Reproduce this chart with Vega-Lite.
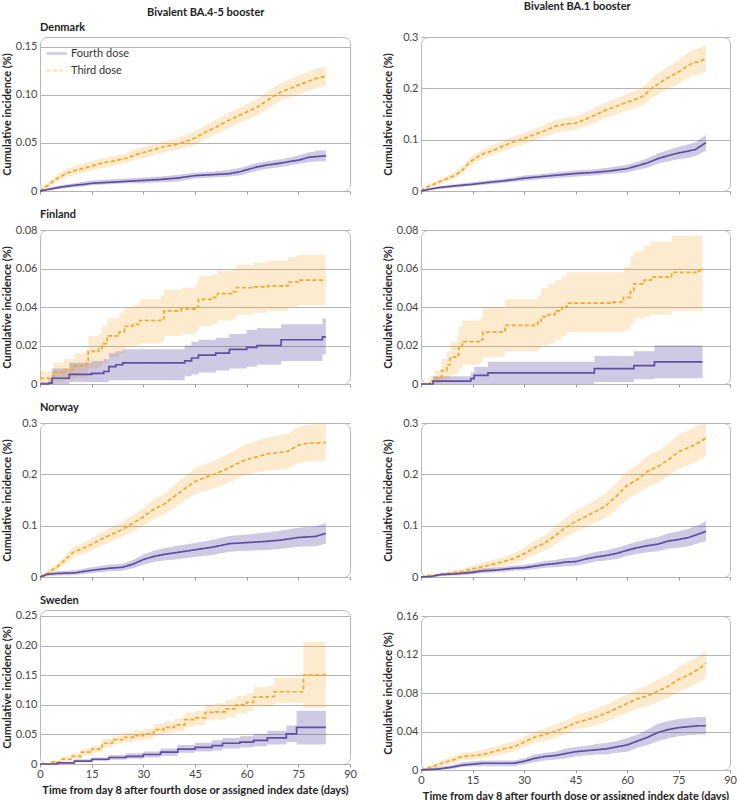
{
  "$schema": "https://vega.github.io/schema/vega-lite/v6.json",
  "padding": {"left": 0, "top": 0, "right": 0, "bottom": 0},
  "config": {
    "font": "Lato",
    "view": {"stroke": "#b8b8b8", "cornerRadius": 7},
    "axis": {"labelFont": "Lato", "labelFontSize": 11, "labelColor": "#444", "titleFont": "Lato", "titleFontSize": 11, "titleFontWeight": "bold", "titleColor": "#222", "domain": false, "labelOverlap": false},
    "axisY": {"grid": true, "gridColor": "#b4b4b4", "ticks": false, "labelPadding": 3, "titleX": -28, "titleAngle": -90, "tickCount": 10},
    "axisX": {"grid": false, "tickColor": "#9a9a9a", "tickSize": 3, "labelPadding": 1, "titlePadding": 5, "labelFlush": false, "tickCount": 10},
    "title": {"font": "Lato", "fontSize": 11, "fontWeight": "bold", "color": "#222"},
    "legend": {"labelFont": "Lato", "labelFontSize": 11, "labelColor": "#333"}
  },
  "datasets": {
    "dk45": [
      {"dose":"Third dose","day":0,"inc":0,"lo":0,"hi":0.002},
      {"dose":"Third dose","day":2,"inc":0.005,"lo":0.003,"hi":0.008},
      {"dose":"Third dose","day":5,"inc":0.013,"lo":0.010,"hi":0.017},
      {"dose":"Third dose","day":8,"inc":0.019,"lo":0.015,"hi":0.023},
      {"dose":"Third dose","day":11,"inc":0.022,"lo":0.018,"hi":0.027},
      {"dose":"Third dose","day":15,"inc":0.026,"lo":0.021,"hi":0.031},
      {"dose":"Third dose","day":18,"inc":0.029,"lo":0.024,"hi":0.034},
      {"dose":"Third dose","day":21,"inc":0.031,"lo":0.026,"hi":0.036},
      {"dose":"Third dose","day":25,"inc":0.034,"lo":0.029,"hi":0.039},
      {"dose":"Third dose","day":28,"inc":0.038,"lo":0.033,"hi":0.044},
      {"dose":"Third dose","day":30,"inc":0.040,"lo":0.034,"hi":0.046},
      {"dose":"Third dose","day":33,"inc":0.043,"lo":0.037,"hi":0.049},
      {"dose":"Third dose","day":36,"inc":0.046,"lo":0.040,"hi":0.052},
      {"dose":"Third dose","day":39,"inc":0.048,"lo":0.042,"hi":0.054},
      {"dose":"Third dose","day":42,"inc":0.051,"lo":0.045,"hi":0.058},
      {"dose":"Third dose","day":45,"inc":0.055,"lo":0.048,"hi":0.062},
      {"dose":"Third dose","day":48,"inc":0.061,"lo":0.054,"hi":0.068},
      {"dose":"Third dose","day":51,"inc":0.066,"lo":0.059,"hi":0.074},
      {"dose":"Third dose","day":54,"inc":0.072,"lo":0.064,"hi":0.080},
      {"dose":"Third dose","day":57,"inc":0.077,"lo":0.069,"hi":0.085},
      {"dose":"Third dose","day":60,"inc":0.082,"lo":0.074,"hi":0.090},
      {"dose":"Third dose","day":63,"inc":0.087,"lo":0.079,"hi":0.096},
      {"dose":"Third dose","day":66,"inc":0.094,"lo":0.085,"hi":0.103},
      {"dose":"Third dose","day":68,"inc":0.099,"lo":0.090,"hi":0.108},
      {"dose":"Third dose","day":70,"inc":0.103,"lo":0.094,"hi":0.112},
      {"dose":"Third dose","day":73,"inc":0.107,"lo":0.098,"hi":0.117},
      {"dose":"Third dose","day":75,"inc":0.110,"lo":0.100,"hi":0.120},
      {"dose":"Third dose","day":78,"inc":0.114,"lo":0.104,"hi":0.124},
      {"dose":"Third dose","day":81,"inc":0.118,"lo":0.108,"hi":0.128},
      {"dose":"Third dose","day":83,"inc":0.119,"lo":0.109,"hi":0.129},
      {"dose":"Fourth dose","day":0,"inc":0,"lo":0,"hi":0.001},
      {"dose":"Fourth dose","day":3,"inc":0.002,"lo":0.001,"hi":0.004},
      {"dose":"Fourth dose","day":6,"inc":0.004,"lo":0.002,"hi":0.006},
      {"dose":"Fourth dose","day":10,"inc":0.006,"lo":0.004,"hi":0.008},
      {"dose":"Fourth dose","day":13,"inc":0.007,"lo":0.005,"hi":0.010},
      {"dose":"Fourth dose","day":15,"inc":0.008,"lo":0.006,"hi":0.011},
      {"dose":"Fourth dose","day":20,"inc":0.009,"lo":0.007,"hi":0.012},
      {"dose":"Fourth dose","day":25,"inc":0.010,"lo":0.008,"hi":0.013},
      {"dose":"Fourth dose","day":30,"inc":0.011,"lo":0.008,"hi":0.014},
      {"dose":"Fourth dose","day":35,"inc":0.012,"lo":0.009,"hi":0.015},
      {"dose":"Fourth dose","day":40,"inc":0.0135,"lo":0.010,"hi":0.017},
      {"dose":"Fourth dose","day":45,"inc":0.016,"lo":0.013,"hi":0.019},
      {"dose":"Fourth dose","day":50,"inc":0.017,"lo":0.014,"hi":0.020},
      {"dose":"Fourth dose","day":55,"inc":0.018,"lo":0.015,"hi":0.022},
      {"dose":"Fourth dose","day":58,"inc":0.020,"lo":0.016,"hi":0.024},
      {"dose":"Fourth dose","day":60,"inc":0.022,"lo":0.018,"hi":0.026},
      {"dose":"Fourth dose","day":63,"inc":0.025,"lo":0.021,"hi":0.029},
      {"dose":"Fourth dose","day":66,"inc":0.027,"lo":0.023,"hi":0.031},
      {"dose":"Fourth dose","day":70,"inc":0.029,"lo":0.025,"hi":0.033},
      {"dose":"Fourth dose","day":73,"inc":0.031,"lo":0.027,"hi":0.035},
      {"dose":"Fourth dose","day":75,"inc":0.032,"lo":0.028,"hi":0.037},
      {"dose":"Fourth dose","day":78,"inc":0.035,"lo":0.030,"hi":0.040},
      {"dose":"Fourth dose","day":81,"inc":0.036,"lo":0.031,"hi":0.042},
      {"dose":"Fourth dose","day":83,"inc":0.0365,"lo":0.031,"hi":0.042}
    ],
    "dk1": [
      {"dose":"Third dose","day":0,"inc":0,"lo":0,"hi":0.003},
      {"dose":"Third dose","day":1,"inc":0.005,"lo":0.002,"hi":0.008},
      {"dose":"Third dose","day":3,"inc":0.011,"lo":0.007,"hi":0.015},
      {"dose":"Third dose","day":5,"inc":0.017,"lo":0.012,"hi":0.022},
      {"dose":"Third dose","day":8,"inc":0.025,"lo":0.019,"hi":0.031},
      {"dose":"Third dose","day":10,"inc":0.031,"lo":0.025,"hi":0.038},
      {"dose":"Third dose","day":12,"inc":0.040,"lo":0.033,"hi":0.047},
      {"dose":"Third dose","day":14,"inc":0.055,"lo":0.047,"hi":0.063},
      {"dose":"Third dose","day":16,"inc":0.065,"lo":0.056,"hi":0.073},
      {"dose":"Third dose","day":18,"inc":0.072,"lo":0.063,"hi":0.081},
      {"dose":"Third dose","day":21,"inc":0.079,"lo":0.070,"hi":0.089},
      {"dose":"Third dose","day":24,"inc":0.088,"lo":0.078,"hi":0.098},
      {"dose":"Third dose","day":27,"inc":0.096,"lo":0.085,"hi":0.106},
      {"dose":"Third dose","day":30,"inc":0.102,"lo":0.091,"hi":0.113},
      {"dose":"Third dose","day":33,"inc":0.110,"lo":0.098,"hi":0.121},
      {"dose":"Third dose","day":36,"inc":0.117,"lo":0.105,"hi":0.129},
      {"dose":"Third dose","day":39,"inc":0.126,"lo":0.113,"hi":0.138},
      {"dose":"Third dose","day":42,"inc":0.130,"lo":0.117,"hi":0.143},
      {"dose":"Third dose","day":45,"inc":0.132,"lo":0.119,"hi":0.145},
      {"dose":"Third dose","day":48,"inc":0.140,"lo":0.126,"hi":0.154},
      {"dose":"Third dose","day":51,"inc":0.149,"lo":0.134,"hi":0.163},
      {"dose":"Third dose","day":54,"inc":0.158,"lo":0.143,"hi":0.173},
      {"dose":"Third dose","day":57,"inc":0.165,"lo":0.149,"hi":0.181},
      {"dose":"Third dose","day":60,"inc":0.173,"lo":0.157,"hi":0.190},
      {"dose":"Third dose","day":63,"inc":0.180,"lo":0.163,"hi":0.197},
      {"dose":"Third dose","day":65,"inc":0.186,"lo":0.168,"hi":0.204},
      {"dose":"Third dose","day":67,"inc":0.199,"lo":0.180,"hi":0.218},
      {"dose":"Third dose","day":69,"inc":0.208,"lo":0.188,"hi":0.228},
      {"dose":"Third dose","day":71,"inc":0.217,"lo":0.196,"hi":0.238},
      {"dose":"Third dose","day":73,"inc":0.225,"lo":0.203,"hi":0.247},
      {"dose":"Third dose","day":75,"inc":0.232,"lo":0.209,"hi":0.255},
      {"dose":"Third dose","day":77,"inc":0.241,"lo":0.217,"hi":0.265},
      {"dose":"Third dose","day":79,"inc":0.249,"lo":0.224,"hi":0.274},
      {"dose":"Third dose","day":81,"inc":0.252,"lo":0.227,"hi":0.278},
      {"dose":"Third dose","day":83,"inc":0.258,"lo":0.232,"hi":0.284},
      {"dose":"Fourth dose","day":0,"inc":0,"lo":0,"hi":0.002},
      {"dose":"Fourth dose","day":3,"inc":0.004,"lo":0.002,"hi":0.006},
      {"dose":"Fourth dose","day":5,"inc":0.0065,"lo":0.004,"hi":0.009},
      {"dose":"Fourth dose","day":10,"inc":0.010,"lo":0.007,"hi":0.013},
      {"dose":"Fourth dose","day":15,"inc":0.013,"lo":0.010,"hi":0.017},
      {"dose":"Fourth dose","day":20,"inc":0.017,"lo":0.013,"hi":0.021},
      {"dose":"Fourth dose","day":23,"inc":0.019,"lo":0.015,"hi":0.023},
      {"dose":"Fourth dose","day":27,"inc":0.022,"lo":0.018,"hi":0.027},
      {"dose":"Fourth dose","day":30,"inc":0.025,"lo":0.020,"hi":0.030},
      {"dose":"Fourth dose","day":35,"inc":0.028,"lo":0.023,"hi":0.033},
      {"dose":"Fourth dose","day":39,"inc":0.0305,"lo":0.025,"hi":0.036},
      {"dose":"Fourth dose","day":45,"inc":0.034,"lo":0.028,"hi":0.040},
      {"dose":"Fourth dose","day":50,"inc":0.036,"lo":0.030,"hi":0.042},
      {"dose":"Fourth dose","day":55,"inc":0.039,"lo":0.033,"hi":0.046},
      {"dose":"Fourth dose","day":60,"inc":0.0435,"lo":0.036,"hi":0.051},
      {"dose":"Fourth dose","day":63,"inc":0.049,"lo":0.041,"hi":0.057},
      {"dose":"Fourth dose","day":66,"inc":0.055,"lo":0.046,"hi":0.064},
      {"dose":"Fourth dose","day":69,"inc":0.063,"lo":0.053,"hi":0.073},
      {"dose":"Fourth dose","day":72,"inc":0.069,"lo":0.058,"hi":0.080},
      {"dose":"Fourth dose","day":75,"inc":0.074,"lo":0.062,"hi":0.086},
      {"dose":"Fourth dose","day":78,"inc":0.078,"lo":0.065,"hi":0.091},
      {"dose":"Fourth dose","day":80,"inc":0.081,"lo":0.068,"hi":0.095},
      {"dose":"Fourth dose","day":82,"inc":0.090,"lo":0.075,"hi":0.105},
      {"dose":"Fourth dose","day":83,"inc":0.094,"lo":0.078,"hi":0.109}
    ],
    "fi45": [
      {"dose":"Third dose","day":0,"inc":0.003,"lo":0,"hi":0.0066},
      {"dose":"Third dose","day":4,"inc":0.006,"lo":0.001,"hi":0.011},
      {"dose":"Third dose","day":7,"inc":0.0075,"lo":0.002,"hi":0.013},
      {"dose":"Third dose","day":10,"inc":0.0095,"lo":0.003,"hi":0.016},
      {"dose":"Third dose","day":13.5,"inc":0.011,"lo":0.004,"hi":0.018},
      {"dose":"Third dose","day":14,"inc":0.017,"lo":0.008,"hi":0.025},
      {"dose":"Third dose","day":17,"inc":0.018,"lo":0.009,"hi":0.026},
      {"dose":"Third dose","day":18,"inc":0.021,"lo":0.011,"hi":0.030},
      {"dose":"Third dose","day":19.5,"inc":0.025,"lo":0.014,"hi":0.034},
      {"dose":"Third dose","day":23,"inc":0.027,"lo":0.016,"hi":0.037},
      {"dose":"Third dose","day":24.5,"inc":0.030,"lo":0.019,"hi":0.040},
      {"dose":"Third dose","day":27,"inc":0.031,"lo":0.020,"hi":0.041},
      {"dose":"Third dose","day":29,"inc":0.033,"lo":0.021,"hi":0.044},
      {"dose":"Third dose","day":35,"inc":0.034,"lo":0.022,"hi":0.046},
      {"dose":"Third dose","day":36,"inc":0.038,"lo":0.025,"hi":0.049},
      {"dose":"Third dose","day":41,"inc":0.039,"lo":0.026,"hi":0.050},
      {"dose":"Third dose","day":45,"inc":0.040,"lo":0.027,"hi":0.052},
      {"dose":"Third dose","day":46,"inc":0.044,"lo":0.030,"hi":0.056},
      {"dose":"Third dose","day":50,"inc":0.045,"lo":0.031,"hi":0.057},
      {"dose":"Third dose","day":51.5,"inc":0.047,"lo":0.033,"hi":0.059},
      {"dose":"Third dose","day":56,"inc":0.048,"lo":0.034,"hi":0.060},
      {"dose":"Third dose","day":57,"inc":0.050,"lo":0.036,"hi":0.062},
      {"dose":"Third dose","day":62,"inc":0.0505,"lo":0.037,"hi":0.063},
      {"dose":"Third dose","day":66,"inc":0.051,"lo":0.038,"hi":0.064},
      {"dose":"Third dose","day":72,"inc":0.053,"lo":0.040,"hi":0.066},
      {"dose":"Third dose","day":75,"inc":0.054,"lo":0.041,"hi":0.067},
      {"dose":"Third dose","day":83,"inc":0.054,"lo":0.041,"hi":0.067},
      {"dose":"Fourth dose","day":0,"inc":0,"lo":0,"hi":0.001},
      {"dose":"Fourth dose","day":2.5,"inc":0.0005,"lo":0,"hi":0.003},
      {"dose":"Fourth dose","day":3.5,"inc":0.003,"lo":0,"hi":0.008},
      {"dose":"Fourth dose","day":8.5,"inc":0.005,"lo":0.001,"hi":0.011},
      {"dose":"Fourth dose","day":15,"inc":0.0055,"lo":0.001,"hi":0.012},
      {"dose":"Fourth dose","day":18.5,"inc":0.0065,"lo":0.001,"hi":0.013},
      {"dose":"Fourth dose","day":20,"inc":0.009,"lo":0.002,"hi":0.016},
      {"dose":"Fourth dose","day":22,"inc":0.010,"lo":0.002,"hi":0.017},
      {"dose":"Fourth dose","day":24,"inc":0.011,"lo":0.002,"hi":0.018},
      {"dose":"Fourth dose","day":42,"inc":0.012,"lo":0.004,"hi":0.020},
      {"dose":"Fourth dose","day":44,"inc":0.0135,"lo":0.005,"hi":0.022},
      {"dose":"Fourth dose","day":46,"inc":0.015,"lo":0.006,"hi":0.023},
      {"dose":"Fourth dose","day":51,"inc":0.016,"lo":0.007,"hi":0.024},
      {"dose":"Fourth dose","day":55,"inc":0.018,"lo":0.008,"hi":0.026},
      {"dose":"Fourth dose","day":60,"inc":0.019,"lo":0.009,"hi":0.028},
      {"dose":"Fourth dose","day":63,"inc":0.020,"lo":0.010,"hi":0.029},
      {"dose":"Fourth dose","day":70,"inc":0.023,"lo":0.012,"hi":0.031},
      {"dose":"Fourth dose","day":81,"inc":0.023,"lo":0.012,"hi":0.031},
      {"dose":"Fourth dose","day":82,"inc":0.0245,"lo":0.0155,"hi":0.034},
      {"dose":"Fourth dose","day":83,"inc":0.0245,"lo":0.0155,"hi":0.034}
    ],
    "fi1": [
      {"dose":"Third dose","day":0,"inc":0,"lo":0,"hi":0},
      {"dose":"Third dose","day":2.5,"inc":0.0015,"lo":0,"hi":0.004},
      {"dose":"Third dose","day":4,"inc":0.003,"lo":0,"hi":0.007},
      {"dose":"Third dose","day":6,"inc":0.007,"lo":0.001,"hi":0.013},
      {"dose":"Third dose","day":7.5,"inc":0.010,"lo":0.003,"hi":0.017},
      {"dose":"Third dose","day":8.5,"inc":0.014,"lo":0.005,"hi":0.022},
      {"dose":"Third dose","day":10.5,"inc":0.015,"lo":0.006,"hi":0.024},
      {"dose":"Third dose","day":11,"inc":0.019,"lo":0.008,"hi":0.030},
      {"dose":"Third dose","day":12,"inc":0.022,"lo":0.010,"hi":0.033},
      {"dose":"Third dose","day":17,"inc":0.023,"lo":0.011,"hi":0.034},
      {"dose":"Third dose","day":18,"inc":0.027,"lo":0.014,"hi":0.040},
      {"dose":"Third dose","day":24.5,"inc":0.0305,"lo":0.017,"hi":0.044},
      {"dose":"Third dose","day":33,"inc":0.0305,"lo":0.017,"hi":0.044},
      {"dose":"Third dose","day":34,"inc":0.032,"lo":0.018,"hi":0.046},
      {"dose":"Third dose","day":35,"inc":0.035,"lo":0.020,"hi":0.050},
      {"dose":"Third dose","day":37,"inc":0.036,"lo":0.021,"hi":0.052},
      {"dose":"Third dose","day":39,"inc":0.038,"lo":0.023,"hi":0.054},
      {"dose":"Third dose","day":41,"inc":0.040,"lo":0.025,"hi":0.056},
      {"dose":"Third dose","day":42.5,"inc":0.042,"lo":0.027,"hi":0.058},
      {"dose":"Third dose","day":56,"inc":0.0425,"lo":0.027,"hi":0.058},
      {"dose":"Third dose","day":59,"inc":0.045,"lo":0.028,"hi":0.061},
      {"dose":"Third dose","day":61,"inc":0.048,"lo":0.031,"hi":0.066},
      {"dose":"Third dose","day":62,"inc":0.052,"lo":0.034,"hi":0.069},
      {"dose":"Third dose","day":65,"inc":0.054,"lo":0.035,"hi":0.072},
      {"dose":"Third dose","day":67,"inc":0.0555,"lo":0.036,"hi":0.074},
      {"dose":"Third dose","day":73,"inc":0.058,"lo":0.038,"hi":0.077},
      {"dose":"Third dose","day":81,"inc":0.059,"lo":0.038,"hi":0.077},
      {"dose":"Third dose","day":82,"inc":0.060,"lo":0.039,"hi":0.079},
      {"dose":"Fourth dose","day":0,"inc":0,"lo":0,"hi":0},
      {"dose":"Fourth dose","day":3.5,"inc":0.0015,"lo":0,"hi":0.004},
      {"dose":"Fourth dose","day":14.5,"inc":0.0028,"lo":0,"hi":0.006},
      {"dose":"Fourth dose","day":15.5,"inc":0.0045,"lo":0,"hi":0.009},
      {"dose":"Fourth dose","day":19.5,"inc":0.0058,"lo":0,"hi":0.0115},
      {"dose":"Fourth dose","day":50.5,"inc":0.008,"lo":0.001,"hi":0.0145},
      {"dose":"Fourth dose","day":62,"inc":0.0095,"lo":0.0025,"hi":0.017},
      {"dose":"Fourth dose","day":68,"inc":0.0115,"lo":0.003,"hi":0.020},
      {"dose":"Fourth dose","day":82,"inc":0.0115,"lo":0.003,"hi":0.020}
    ],
    "no45": [
      {"dose":"Third dose","day":0,"inc":0,"lo":0,"hi":0.002},
      {"dose":"Third dose","day":2,"inc":0.007,"lo":0.003,"hi":0.011},
      {"dose":"Third dose","day":5,"inc":0.020,"lo":0.013,"hi":0.027},
      {"dose":"Third dose","day":7,"inc":0.032,"lo":0.024,"hi":0.040},
      {"dose":"Third dose","day":10,"inc":0.050,"lo":0.040,"hi":0.060},
      {"dose":"Third dose","day":12,"inc":0.054,"lo":0.043,"hi":0.065},
      {"dose":"Third dose","day":15,"inc":0.064,"lo":0.052,"hi":0.076},
      {"dose":"Third dose","day":18,"inc":0.074,"lo":0.061,"hi":0.087},
      {"dose":"Third dose","day":21,"inc":0.084,"lo":0.070,"hi":0.098},
      {"dose":"Third dose","day":24,"inc":0.093,"lo":0.078,"hi":0.108},
      {"dose":"Third dose","day":27,"inc":0.105,"lo":0.089,"hi":0.121},
      {"dose":"Third dose","day":30,"inc":0.117,"lo":0.100,"hi":0.134},
      {"dose":"Third dose","day":33,"inc":0.132,"lo":0.113,"hi":0.151},
      {"dose":"Third dose","day":36,"inc":0.142,"lo":0.122,"hi":0.162},
      {"dose":"Third dose","day":39,"inc":0.157,"lo":0.135,"hi":0.179},
      {"dose":"Third dose","day":42,"inc":0.172,"lo":0.149,"hi":0.195},
      {"dose":"Third dose","day":45,"inc":0.186,"lo":0.161,"hi":0.212},
      {"dose":"Third dose","day":48,"inc":0.194,"lo":0.168,"hi":0.220},
      {"dose":"Third dose","day":51,"inc":0.201,"lo":0.174,"hi":0.228},
      {"dose":"Third dose","day":54,"inc":0.210,"lo":0.182,"hi":0.238},
      {"dose":"Third dose","day":57,"inc":0.220,"lo":0.191,"hi":0.249},
      {"dose":"Third dose","day":60,"inc":0.229,"lo":0.199,"hi":0.259},
      {"dose":"Third dose","day":63,"inc":0.234,"lo":0.203,"hi":0.265},
      {"dose":"Third dose","day":66,"inc":0.240,"lo":0.208,"hi":0.272},
      {"dose":"Third dose","day":69,"inc":0.242,"lo":0.209,"hi":0.275},
      {"dose":"Third dose","day":72,"inc":0.245,"lo":0.211,"hi":0.279},
      {"dose":"Third dose","day":75,"inc":0.257,"lo":0.222,"hi":0.292},
      {"dose":"Third dose","day":78,"inc":0.261,"lo":0.225,"hi":0.297},
      {"dose":"Third dose","day":83,"inc":0.262,"lo":0.226,"hi":0.298},
      {"dose":"Fourth dose","day":0,"inc":0,"lo":0,"hi":0.002},
      {"dose":"Fourth dose","day":2,"inc":0.005,"lo":0.002,"hi":0.008},
      {"dose":"Fourth dose","day":5,"inc":0.007,"lo":0.003,"hi":0.011},
      {"dose":"Fourth dose","day":10,"inc":0.008,"lo":0.004,"hi":0.013},
      {"dose":"Fourth dose","day":15,"inc":0.013,"lo":0.008,"hi":0.019},
      {"dose":"Fourth dose","day":20,"inc":0.017,"lo":0.011,"hi":0.024},
      {"dose":"Fourth dose","day":24,"inc":0.019,"lo":0.012,"hi":0.026},
      {"dose":"Fourth dose","day":27,"inc":0.025,"lo":0.017,"hi":0.033},
      {"dose":"Fourth dose","day":30,"inc":0.034,"lo":0.024,"hi":0.044},
      {"dose":"Fourth dose","day":33,"inc":0.040,"lo":0.029,"hi":0.051},
      {"dose":"Fourth dose","day":36,"inc":0.044,"lo":0.032,"hi":0.056},
      {"dose":"Fourth dose","day":40,"inc":0.048,"lo":0.035,"hi":0.061},
      {"dose":"Fourth dose","day":45,"inc":0.053,"lo":0.039,"hi":0.066},
      {"dose":"Fourth dose","day":50,"inc":0.058,"lo":0.043,"hi":0.072},
      {"dose":"Fourth dose","day":55,"inc":0.065,"lo":0.049,"hi":0.080},
      {"dose":"Fourth dose","day":60,"inc":0.067,"lo":0.051,"hi":0.083},
      {"dose":"Fourth dose","day":65,"inc":0.069,"lo":0.052,"hi":0.086},
      {"dose":"Fourth dose","day":70,"inc":0.072,"lo":0.055,"hi":0.090},
      {"dose":"Fourth dose","day":75,"inc":0.077,"lo":0.059,"hi":0.096},
      {"dose":"Fourth dose","day":80,"inc":0.079,"lo":0.060,"hi":0.099},
      {"dose":"Fourth dose","day":83,"inc":0.085,"lo":0.065,"hi":0.105}
    ],
    "no1": [
      {"dose":"Third dose","day":0,"inc":0,"lo":0,"hi":0.002},
      {"dose":"Third dose","day":3,"inc":0.003,"lo":0.001,"hi":0.006},
      {"dose":"Third dose","day":6,"inc":0.005,"lo":0.002,"hi":0.008},
      {"dose":"Third dose","day":9,"inc":0.008,"lo":0.004,"hi":0.012},
      {"dose":"Third dose","day":12,"inc":0.011,"lo":0.006,"hi":0.016},
      {"dose":"Third dose","day":15,"inc":0.016,"lo":0.010,"hi":0.022},
      {"dose":"Third dose","day":18,"inc":0.020,"lo":0.013,"hi":0.027},
      {"dose":"Third dose","day":21,"inc":0.025,"lo":0.017,"hi":0.033},
      {"dose":"Third dose","day":24,"inc":0.030,"lo":0.021,"hi":0.039},
      {"dose":"Third dose","day":27,"inc":0.036,"lo":0.026,"hi":0.046},
      {"dose":"Third dose","day":30,"inc":0.045,"lo":0.033,"hi":0.057},
      {"dose":"Third dose","day":33,"inc":0.057,"lo":0.043,"hi":0.071},
      {"dose":"Third dose","day":36,"inc":0.066,"lo":0.051,"hi":0.081},
      {"dose":"Third dose","day":39,"inc":0.080,"lo":0.063,"hi":0.097},
      {"dose":"Third dose","day":42,"inc":0.096,"lo":0.077,"hi":0.115},
      {"dose":"Third dose","day":45,"inc":0.108,"lo":0.088,"hi":0.129},
      {"dose":"Third dose","day":48,"inc":0.118,"lo":0.097,"hi":0.140},
      {"dose":"Third dose","day":51,"inc":0.128,"lo":0.106,"hi":0.151},
      {"dose":"Third dose","day":54,"inc":0.140,"lo":0.116,"hi":0.164},
      {"dose":"Third dose","day":57,"inc":0.158,"lo":0.132,"hi":0.184},
      {"dose":"Third dose","day":60,"inc":0.178,"lo":0.151,"hi":0.206},
      {"dose":"Third dose","day":63,"inc":0.190,"lo":0.162,"hi":0.219},
      {"dose":"Third dose","day":66,"inc":0.206,"lo":0.176,"hi":0.236},
      {"dose":"Third dose","day":69,"inc":0.215,"lo":0.184,"hi":0.246},
      {"dose":"Third dose","day":72,"inc":0.228,"lo":0.196,"hi":0.260},
      {"dose":"Third dose","day":75,"inc":0.244,"lo":0.211,"hi":0.277},
      {"dose":"Third dose","day":78,"inc":0.252,"lo":0.218,"hi":0.286},
      {"dose":"Third dose","day":81,"inc":0.262,"lo":0.227,"hi":0.296},
      {"dose":"Third dose","day":83,"inc":0.271,"lo":0.236,"hi":0.300},
      {"dose":"Fourth dose","day":0,"inc":0,"lo":0,"hi":0.001},
      {"dose":"Fourth dose","day":3,"inc":0.001,"lo":0,"hi":0.003},
      {"dose":"Fourth dose","day":6,"inc":0.005,"lo":0.002,"hi":0.008},
      {"dose":"Fourth dose","day":10,"inc":0.006,"lo":0.003,"hi":0.009},
      {"dose":"Fourth dose","day":15,"inc":0.009,"lo":0.005,"hi":0.013},
      {"dose":"Fourth dose","day":18,"inc":0.012,"lo":0.008,"hi":0.017},
      {"dose":"Fourth dose","day":21,"inc":0.013,"lo":0.009,"hi":0.018},
      {"dose":"Fourth dose","day":24,"inc":0.015,"lo":0.010,"hi":0.020},
      {"dose":"Fourth dose","day":27,"inc":0.017,"lo":0.012,"hi":0.022},
      {"dose":"Fourth dose","day":30,"inc":0.018,"lo":0.013,"hi":0.024},
      {"dose":"Fourth dose","day":33,"inc":0.021,"lo":0.015,"hi":0.027},
      {"dose":"Fourth dose","day":36,"inc":0.024,"lo":0.018,"hi":0.031},
      {"dose":"Fourth dose","day":39,"inc":0.026,"lo":0.019,"hi":0.033},
      {"dose":"Fourth dose","day":42,"inc":0.029,"lo":0.021,"hi":0.037},
      {"dose":"Fourth dose","day":45,"inc":0.030,"lo":0.022,"hi":0.039},
      {"dose":"Fourth dose","day":48,"inc":0.035,"lo":0.026,"hi":0.044},
      {"dose":"Fourth dose","day":51,"inc":0.039,"lo":0.030,"hi":0.049},
      {"dose":"Fourth dose","day":54,"inc":0.042,"lo":0.032,"hi":0.052},
      {"dose":"Fourth dose","day":57,"inc":0.046,"lo":0.035,"hi":0.057},
      {"dose":"Fourth dose","day":60,"inc":0.052,"lo":0.041,"hi":0.063},
      {"dose":"Fourth dose","day":63,"inc":0.057,"lo":0.045,"hi":0.069},
      {"dose":"Fourth dose","day":66,"inc":0.061,"lo":0.048,"hi":0.074},
      {"dose":"Fourth dose","day":69,"inc":0.064,"lo":0.050,"hi":0.078},
      {"dose":"Fourth dose","day":72,"inc":0.070,"lo":0.055,"hi":0.085},
      {"dose":"Fourth dose","day":75,"inc":0.073,"lo":0.057,"hi":0.089},
      {"dose":"Fourth dose","day":78,"inc":0.077,"lo":0.060,"hi":0.094},
      {"dose":"Fourth dose","day":81,"inc":0.084,"lo":0.066,"hi":0.102},
      {"dose":"Fourth dose","day":83,"inc":0.089,"lo":0.070,"hi":0.109}
    ],
    "se45": [
      {"dose":"Third dose","day":0,"inc":0,"lo":0,"hi":0.001},
      {"dose":"Third dose","day":3,"inc":0.003,"lo":0.001,"hi":0.006},
      {"dose":"Third dose","day":6,"inc":0.008,"lo":0.005,"hi":0.012},
      {"dose":"Third dose","day":9,"inc":0.013,"lo":0.009,"hi":0.018},
      {"dose":"Third dose","day":12,"inc":0.020,"lo":0.015,"hi":0.025},
      {"dose":"Third dose","day":15,"inc":0.025,"lo":0.019,"hi":0.031},
      {"dose":"Third dose","day":18,"inc":0.035,"lo":0.028,"hi":0.042},
      {"dose":"Third dose","day":21,"inc":0.041,"lo":0.034,"hi":0.048},
      {"dose":"Third dose","day":24,"inc":0.045,"lo":0.037,"hi":0.053},
      {"dose":"Third dose","day":27,"inc":0.048,"lo":0.040,"hi":0.057},
      {"dose":"Third dose","day":30,"inc":0.051,"lo":0.042,"hi":0.060},
      {"dose":"Third dose","day":33,"inc":0.058,"lo":0.048,"hi":0.068},
      {"dose":"Third dose","day":36,"inc":0.062,"lo":0.052,"hi":0.072},
      {"dose":"Third dose","day":39,"inc":0.066,"lo":0.055,"hi":0.077},
      {"dose":"Third dose","day":42,"inc":0.075,"lo":0.063,"hi":0.087},
      {"dose":"Third dose","day":45,"inc":0.078,"lo":0.066,"hi":0.090},
      {"dose":"Third dose","day":48,"inc":0.087,"lo":0.074,"hi":0.100},
      {"dose":"Third dose","day":51,"inc":0.088,"lo":0.075,"hi":0.102},
      {"dose":"Third dose","day":54,"inc":0.093,"lo":0.079,"hi":0.108},
      {"dose":"Third dose","day":57,"inc":0.100,"lo":0.085,"hi":0.115},
      {"dose":"Third dose","day":60,"inc":0.104,"lo":0.089,"hi":0.119},
      {"dose":"Third dose","day":62,"inc":0.113,"lo":0.097,"hi":0.130},
      {"dose":"Third dose","day":66,"inc":0.114,"lo":0.098,"hi":0.132},
      {"dose":"Third dose","day":68,"inc":0.122,"lo":0.103,"hi":0.146},
      {"dose":"Third dose","day":76.5,"inc":0.150,"lo":0.094,"hi":0.206},
      {"dose":"Third dose","day":83,"inc":0.150,"lo":0.094,"hi":0.206},
      {"dose":"Fourth dose","day":0,"inc":0,"lo":0,"hi":0.001},
      {"dose":"Fourth dose","day":5,"inc":0.002,"lo":0.001,"hi":0.004},
      {"dose":"Fourth dose","day":10,"inc":0.005,"lo":0.003,"hi":0.008},
      {"dose":"Fourth dose","day":15,"inc":0.008,"lo":0.005,"hi":0.011},
      {"dose":"Fourth dose","day":20,"inc":0.011,"lo":0.007,"hi":0.015},
      {"dose":"Fourth dose","day":25,"inc":0.013,"lo":0.009,"hi":0.018},
      {"dose":"Fourth dose","day":30,"inc":0.016,"lo":0.011,"hi":0.021},
      {"dose":"Fourth dose","day":35,"inc":0.020,"lo":0.014,"hi":0.026},
      {"dose":"Fourth dose","day":40,"inc":0.025,"lo":0.019,"hi":0.032},
      {"dose":"Fourth dose","day":45,"inc":0.028,"lo":0.021,"hi":0.036},
      {"dose":"Fourth dose","day":50,"inc":0.031,"lo":0.023,"hi":0.040},
      {"dose":"Fourth dose","day":53,"inc":0.035,"lo":0.026,"hi":0.044},
      {"dose":"Fourth dose","day":58,"inc":0.037,"lo":0.028,"hi":0.047},
      {"dose":"Fourth dose","day":62,"inc":0.040,"lo":0.030,"hi":0.051},
      {"dose":"Fourth dose","day":66,"inc":0.044,"lo":0.033,"hi":0.056},
      {"dose":"Fourth dose","day":71.5,"inc":0.051,"lo":0.037,"hi":0.065},
      {"dose":"Fourth dose","day":74.5,"inc":0.062,"lo":0.033,"hi":0.090},
      {"dose":"Fourth dose","day":83,"inc":0.062,"lo":0.033,"hi":0.090}
    ],
    "se1": [
      {"dose":"Third dose","day":0,"inc":0,"lo":0,"hi":0.001},
      {"dose":"Third dose","day":3,"inc":0.003,"lo":0.001,"hi":0.005},
      {"dose":"Third dose","day":6,"inc":0.007,"lo":0.004,"hi":0.010},
      {"dose":"Third dose","day":9,"inc":0.010,"lo":0.007,"hi":0.014},
      {"dose":"Third dose","day":12,"inc":0.014,"lo":0.010,"hi":0.018},
      {"dose":"Third dose","day":15,"inc":0.015,"lo":0.011,"hi":0.019},
      {"dose":"Third dose","day":18,"inc":0.016,"lo":0.012,"hi":0.021},
      {"dose":"Third dose","day":21,"inc":0.019,"lo":0.014,"hi":0.024},
      {"dose":"Third dose","day":24,"inc":0.022,"lo":0.017,"hi":0.027},
      {"dose":"Third dose","day":27,"inc":0.024,"lo":0.019,"hi":0.030},
      {"dose":"Third dose","day":30,"inc":0.029,"lo":0.023,"hi":0.035},
      {"dose":"Third dose","day":33,"inc":0.034,"lo":0.028,"hi":0.040},
      {"dose":"Third dose","day":36,"inc":0.037,"lo":0.030,"hi":0.043},
      {"dose":"Third dose","day":39,"inc":0.040,"lo":0.033,"hi":0.047},
      {"dose":"Third dose","day":42,"inc":0.044,"lo":0.037,"hi":0.051},
      {"dose":"Third dose","day":45,"inc":0.049,"lo":0.042,"hi":0.057},
      {"dose":"Third dose","day":48,"inc":0.052,"lo":0.044,"hi":0.060},
      {"dose":"Third dose","day":51,"inc":0.055,"lo":0.047,"hi":0.064},
      {"dose":"Third dose","day":54,"inc":0.059,"lo":0.050,"hi":0.068},
      {"dose":"Third dose","day":57,"inc":0.064,"lo":0.055,"hi":0.073},
      {"dose":"Third dose","day":60,"inc":0.069,"lo":0.059,"hi":0.079},
      {"dose":"Third dose","day":63,"inc":0.074,"lo":0.064,"hi":0.084},
      {"dose":"Third dose","day":66,"inc":0.077,"lo":0.066,"hi":0.088},
      {"dose":"Third dose","day":69,"inc":0.082,"lo":0.071,"hi":0.094},
      {"dose":"Third dose","day":72,"inc":0.087,"lo":0.075,"hi":0.099},
      {"dose":"Third dose","day":75,"inc":0.094,"lo":0.081,"hi":0.107},
      {"dose":"Third dose","day":78,"inc":0.099,"lo":0.086,"hi":0.113},
      {"dose":"Third dose","day":81,"inc":0.105,"lo":0.091,"hi":0.119},
      {"dose":"Third dose","day":83,"inc":0.111,"lo":0.097,"hi":0.124},
      {"dose":"Fourth dose","day":0,"inc":0,"lo":0,"hi":0.001},
      {"dose":"Fourth dose","day":5,"inc":0.001,"lo":0,"hi":0.003},
      {"dose":"Fourth dose","day":9,"inc":0.003,"lo":0.001,"hi":0.005},
      {"dose":"Fourth dose","day":12,"inc":0.005,"lo":0.003,"hi":0.008},
      {"dose":"Fourth dose","day":15,"inc":0.006,"lo":0.004,"hi":0.009},
      {"dose":"Fourth dose","day":18,"inc":0.007,"lo":0.004,"hi":0.010},
      {"dose":"Fourth dose","day":27,"inc":0.007,"lo":0.004,"hi":0.010},
      {"dose":"Fourth dose","day":30,"inc":0.009,"lo":0.006,"hi":0.012},
      {"dose":"Fourth dose","day":33,"inc":0.012,"lo":0.008,"hi":0.016},
      {"dose":"Fourth dose","day":36,"inc":0.014,"lo":0.010,"hi":0.018},
      {"dose":"Fourth dose","day":39,"inc":0.015,"lo":0.011,"hi":0.019},
      {"dose":"Fourth dose","day":42,"inc":0.017,"lo":0.012,"hi":0.022},
      {"dose":"Fourth dose","day":45,"inc":0.019,"lo":0.014,"hi":0.024},
      {"dose":"Fourth dose","day":48,"inc":0.020,"lo":0.015,"hi":0.025},
      {"dose":"Fourth dose","day":51,"inc":0.021,"lo":0.016,"hi":0.027},
      {"dose":"Fourth dose","day":54,"inc":0.022,"lo":0.016,"hi":0.028},
      {"dose":"Fourth dose","day":57,"inc":0.024,"lo":0.018,"hi":0.030},
      {"dose":"Fourth dose","day":60,"inc":0.026,"lo":0.019,"hi":0.033},
      {"dose":"Fourth dose","day":63,"inc":0.030,"lo":0.023,"hi":0.037},
      {"dose":"Fourth dose","day":66,"inc":0.034,"lo":0.026,"hi":0.042},
      {"dose":"Fourth dose","day":69,"inc":0.039,"lo":0.030,"hi":0.048},
      {"dose":"Fourth dose","day":72,"inc":0.042,"lo":0.033,"hi":0.051},
      {"dose":"Fourth dose","day":75,"inc":0.044,"lo":0.035,"hi":0.053},
      {"dose":"Fourth dose","day":78,"inc":0.045,"lo":0.036,"hi":0.054},
      {"dose":"Fourth dose","day":81,"inc":0.046,"lo":0.037,"hi":0.055},
      {"dose":"Fourth dose","day":83,"inc":0.046,"lo":0.037,"hi":0.055}
    ]
  },
  "spacing": 24,
  "resolve": {"scale": {"x": "independent", "y": "independent", "color": "independent", "strokeDash": "independent"}},
  "hconcat": [
    {
      "title": {"text": "Bivalent BA.4-5 booster", "anchor": "middle", "frame": "bounds", "dx": 27, "offset": 4},
      "spacing": 11,
      "resolve": {"scale": {"x": "independent", "y": "independent", "color": "independent", "strokeDash": "independent"}},
      "vconcat": [
        {
          "width": 310, "height": 154,
          "title": {"text": "Denmark", "anchor": "start", "frame": "group", "offset": 4},
          "data": {"name": "dk45"},
          "encoding": {"x": {"field": "day", "type": "quantitative", "scale": {"domain": [0, 90]}, "axis": {"values": [0, 15, 30, 45, 60, 75, 90], "labels": false, "title": null}}},
          "layer": [
            {"mark": {"type": "area", "interpolate": "linear"},
             "encoding": {"y": {"field": "lo", "type": "quantitative", "title": "Cumulative incidence (%)", "scale": {"domain": [0, 0.15]}, "axis": {"values": [0, 0.05, 0.1, 0.15], "labelExpr": "datum.value == 0 ? '0' : format(datum.value, '.2f')"}},
                          "y2": {"field": "hi"},
                          "color": {"field": "dose", "type": "nominal", "scale": {"domain": ["Fourth dose", "Third dose"], "range": ["#5f4ea3", "#f6a623"]}},
                          "opacity": {"condition": {"test": "datum.dose == 'Third dose'", "value": 0.22}, "value": 0.3}}},
            {"mark": {"type": "line", "interpolate": "linear", "strokeWidth": 1.7},
             "encoding": {"y": {"field": "inc", "type": "quantitative", "title": "Cumulative incidence (%)"},
                          "color": {"field": "dose", "type": "nominal", "scale": {"domain": ["Fourth dose", "Third dose"], "range": ["#5f4ea3", "#f6a623"]}, "legend": {"title": null, "orient": "top-left", "offset": 5, "symbolType": "stroke", "symbolSize": 420, "symbolStrokeWidth": 2.5, "symbolOpacity": 1, "labelOffset": 3, "rowPadding": -6}},
                          "strokeDash": {"field": "dose", "type": "nominal", "scale": {"domain": ["Fourth dose", "Third dose"], "range": [[1, 0], [4, 2.5]]}, "legend": {"title": null, "orient": "top-left", "offset": 5, "symbolType": "stroke", "symbolSize": 420, "symbolStrokeWidth": 2.5, "symbolOpacity": 1, "labelOffset": 3, "rowPadding": -6}}}}
          ]
        },
        {
          "width": 310, "height": 154,
          "title": {"text": "Finland", "anchor": "start", "frame": "group", "offset": 4},
          "data": {"name": "fi45"},
          "encoding": {"x": {"field": "day", "type": "quantitative", "scale": {"domain": [0, 90]}, "axis": {"values": [0, 15, 30, 45, 60, 75, 90], "labels": false, "title": null}}},
          "layer": [
            {"mark": {"type": "area", "interpolate": "step-after"},
             "encoding": {"y": {"field": "lo", "type": "quantitative", "title": "Cumulative incidence (%)", "scale": {"domain": [0, 0.08]}, "axis": {"values": [0, 0.02, 0.04, 0.06, 0.08], "labelExpr": "datum.value == 0 ? '0' : format(datum.value, '.2f')"}},
                          "y2": {"field": "hi"},
                          "color": {"field": "dose", "type": "nominal", "scale": {"domain": ["Fourth dose", "Third dose"], "range": ["#5f4ea3", "#f6a623"]}, "legend": null},
                          "opacity": {"condition": {"test": "datum.dose == 'Third dose'", "value": 0.22}, "value": 0.3}}},
            {"mark": {"type": "line", "interpolate": "step-after", "strokeWidth": 1.7},
             "encoding": {"y": {"field": "inc", "type": "quantitative", "title": "Cumulative incidence (%)"},
                          "color": {"field": "dose", "type": "nominal", "scale": {"domain": ["Fourth dose", "Third dose"], "range": ["#5f4ea3", "#f6a623"]}, "legend": null},
                          "strokeDash": {"field": "dose", "type": "nominal", "scale": {"domain": ["Fourth dose", "Third dose"], "range": [[1, 0], [4, 2.5]]}, "legend": null}}}
          ]
        },
        {
          "width": 310, "height": 154,
          "title": {"text": "Norway", "anchor": "start", "frame": "group", "offset": 4},
          "data": {"name": "no45"},
          "encoding": {"x": {"field": "day", "type": "quantitative", "scale": {"domain": [0, 90]}, "axis": {"values": [0, 15, 30, 45, 60, 75, 90], "labels": false, "title": null}}},
          "layer": [
            {"mark": {"type": "area", "interpolate": "linear"},
             "encoding": {"y": {"field": "lo", "type": "quantitative", "title": "Cumulative incidence (%)", "scale": {"domain": [0, 0.3]}, "axis": {"values": [0, 0.1, 0.2, 0.3], "labelExpr": "datum.value == 0 ? '0' : format(datum.value, '.1f')"}},
                          "y2": {"field": "hi"},
                          "color": {"field": "dose", "type": "nominal", "scale": {"domain": ["Fourth dose", "Third dose"], "range": ["#5f4ea3", "#f6a623"]}, "legend": null},
                          "opacity": {"condition": {"test": "datum.dose == 'Third dose'", "value": 0.22}, "value": 0.3}}},
            {"mark": {"type": "line", "interpolate": "linear", "strokeWidth": 1.7},
             "encoding": {"y": {"field": "inc", "type": "quantitative", "title": "Cumulative incidence (%)"},
                          "color": {"field": "dose", "type": "nominal", "scale": {"domain": ["Fourth dose", "Third dose"], "range": ["#5f4ea3", "#f6a623"]}, "legend": null},
                          "strokeDash": {"field": "dose", "type": "nominal", "scale": {"domain": ["Fourth dose", "Third dose"], "range": [[1, 0], [4, 2.5]]}, "legend": null}}}
          ]
        },
        {
          "width": 310, "height": 154,
          "title": {"text": "Sweden", "anchor": "start", "frame": "group", "offset": 4},
          "data": {"name": "se45"},
          "encoding": {"x": {"field": "day", "type": "quantitative", "scale": {"domain": [0, 90]}, "axis": {"values": [0, 15, 30, 45, 60, 75, 90], "title": "Time from day 8 after fourth dose or assigned index date (days)"}}},
          "layer": [
            {"mark": {"type": "area", "interpolate": "step-after"},
             "encoding": {"y": {"field": "lo", "type": "quantitative", "title": "Cumulative incidence (%)", "scale": {"domain": [0, 0.25]}, "axis": {"values": [0, 0.05, 0.1, 0.15, 0.2, 0.25], "labelExpr": "datum.value == 0 ? '0' : format(datum.value, '.2f')"}},
                          "y2": {"field": "hi"},
                          "color": {"field": "dose", "type": "nominal", "scale": {"domain": ["Fourth dose", "Third dose"], "range": ["#5f4ea3", "#f6a623"]}, "legend": null},
                          "opacity": {"condition": {"test": "datum.dose == 'Third dose'", "value": 0.22}, "value": 0.3}}},
            {"mark": {"type": "line", "interpolate": "step-after", "strokeWidth": 1.7},
             "encoding": {"y": {"field": "inc", "type": "quantitative", "title": "Cumulative incidence (%)"},
                          "color": {"field": "dose", "type": "nominal", "scale": {"domain": ["Fourth dose", "Third dose"], "range": ["#5f4ea3", "#f6a623"]}, "legend": null},
                          "strokeDash": {"field": "dose", "type": "nominal", "scale": {"domain": ["Fourth dose", "Third dose"], "range": [[1, 0], [4, 2.5]]}, "legend": null}}}
          ]
        }
      ]
    },
    {
      "title": {"text": "Bivalent BA.1 booster", "anchor": "middle", "frame": "bounds", "dx": 18, "offset": 4},
      "spacing": 11,
      "resolve": {"scale": {"x": "independent", "y": "independent", "color": "independent", "strokeDash": "independent"}},
      "vconcat": [
        {
          "width": 309, "height": 154,
          "title": {"text": " ", "anchor": "start", "frame": "group", "offset": 4},
          "data": {"name": "dk1"},
          "encoding": {"x": {"field": "day", "type": "quantitative", "scale": {"domain": [0, 90]}, "axis": {"values": [0, 15, 30, 45, 60, 75, 90], "labels": false, "title": null}}},
          "layer": [
            {"mark": {"type": "area", "interpolate": "linear"},
             "encoding": {"y": {"field": "lo", "type": "quantitative", "title": "Cumulative incidence (%)", "scale": {"domain": [0, 0.3]}, "axis": {"values": [0, 0.1, 0.2, 0.3], "labelExpr": "datum.value == 0 ? '0' : format(datum.value, '.1f')"}},
                          "y2": {"field": "hi"},
                          "color": {"field": "dose", "type": "nominal", "scale": {"domain": ["Fourth dose", "Third dose"], "range": ["#5f4ea3", "#f6a623"]}, "legend": null},
                          "opacity": {"condition": {"test": "datum.dose == 'Third dose'", "value": 0.22}, "value": 0.3}}},
            {"mark": {"type": "line", "interpolate": "linear", "strokeWidth": 1.7},
             "encoding": {"y": {"field": "inc", "type": "quantitative", "title": "Cumulative incidence (%)"},
                          "color": {"field": "dose", "type": "nominal", "scale": {"domain": ["Fourth dose", "Third dose"], "range": ["#5f4ea3", "#f6a623"]}, "legend": null},
                          "strokeDash": {"field": "dose", "type": "nominal", "scale": {"domain": ["Fourth dose", "Third dose"], "range": [[1, 0], [4, 2.5]]}, "legend": null}}}
          ]
        },
        {
          "width": 309, "height": 154,
          "title": {"text": " ", "anchor": "start", "frame": "group", "offset": 4},
          "data": {"name": "fi1"},
          "encoding": {"x": {"field": "day", "type": "quantitative", "scale": {"domain": [0, 90]}, "axis": {"values": [0, 15, 30, 45, 60, 75, 90], "labels": false, "title": null}}},
          "layer": [
            {"mark": {"type": "area", "interpolate": "step-after"},
             "encoding": {"y": {"field": "lo", "type": "quantitative", "title": "Cumulative incidence (%)", "scale": {"domain": [0, 0.08]}, "axis": {"values": [0, 0.02, 0.04, 0.06, 0.08], "labelExpr": "datum.value == 0 ? '0' : format(datum.value, '.2f')"}},
                          "y2": {"field": "hi"},
                          "color": {"field": "dose", "type": "nominal", "scale": {"domain": ["Fourth dose", "Third dose"], "range": ["#5f4ea3", "#f6a623"]}, "legend": null},
                          "opacity": {"condition": {"test": "datum.dose == 'Third dose'", "value": 0.22}, "value": 0.3}}},
            {"mark": {"type": "line", "interpolate": "step-after", "strokeWidth": 1.7},
             "encoding": {"y": {"field": "inc", "type": "quantitative", "title": "Cumulative incidence (%)"},
                          "color": {"field": "dose", "type": "nominal", "scale": {"domain": ["Fourth dose", "Third dose"], "range": ["#5f4ea3", "#f6a623"]}, "legend": null},
                          "strokeDash": {"field": "dose", "type": "nominal", "scale": {"domain": ["Fourth dose", "Third dose"], "range": [[1, 0], [4, 2.5]]}, "legend": null}}}
          ]
        },
        {
          "width": 309, "height": 154,
          "title": {"text": " ", "anchor": "start", "frame": "group", "offset": 4},
          "data": {"name": "no1"},
          "encoding": {"x": {"field": "day", "type": "quantitative", "scale": {"domain": [0, 90]}, "axis": {"values": [0, 15, 30, 45, 60, 75, 90], "labels": false, "title": null}}},
          "layer": [
            {"mark": {"type": "area", "interpolate": "linear"},
             "encoding": {"y": {"field": "lo", "type": "quantitative", "title": "Cumulative incidence (%)", "scale": {"domain": [0, 0.3]}, "axis": {"values": [0, 0.1, 0.2, 0.3], "labelExpr": "datum.value == 0 ? '0' : format(datum.value, '.1f')"}},
                          "y2": {"field": "hi"},
                          "color": {"field": "dose", "type": "nominal", "scale": {"domain": ["Fourth dose", "Third dose"], "range": ["#5f4ea3", "#f6a623"]}, "legend": null},
                          "opacity": {"condition": {"test": "datum.dose == 'Third dose'", "value": 0.22}, "value": 0.3}}},
            {"mark": {"type": "line", "interpolate": "linear", "strokeWidth": 1.7},
             "encoding": {"y": {"field": "inc", "type": "quantitative", "title": "Cumulative incidence (%)"},
                          "color": {"field": "dose", "type": "nominal", "scale": {"domain": ["Fourth dose", "Third dose"], "range": ["#5f4ea3", "#f6a623"]}, "legend": null},
                          "strokeDash": {"field": "dose", "type": "nominal", "scale": {"domain": ["Fourth dose", "Third dose"], "range": [[1, 0], [4, 2.5]]}, "legend": null}}}
          ]
        },
        {
          "width": 309, "height": 154,
          "title": {"text": " ", "anchor": "start", "frame": "group", "offset": 4},
          "data": {"name": "se1"},
          "encoding": {"x": {"field": "day", "type": "quantitative", "scale": {"domain": [0, 90]}, "axis": {"values": [0, 15, 30, 45, 60, 75, 90], "title": "Time from day 8 after fourth dose or assigned index date (days)"}}},
          "layer": [
            {"mark": {"type": "area", "interpolate": "linear"},
             "encoding": {"y": {"field": "lo", "type": "quantitative", "title": "Cumulative incidence (%)", "scale": {"domain": [0, 0.16]}, "axis": {"values": [0, 0.04, 0.08, 0.12, 0.16], "labelExpr": "datum.value == 0 ? '0' : format(datum.value, '.2f')"}},
                          "y2": {"field": "hi"},
                          "color": {"field": "dose", "type": "nominal", "scale": {"domain": ["Fourth dose", "Third dose"], "range": ["#5f4ea3", "#f6a623"]}, "legend": null},
                          "opacity": {"condition": {"test": "datum.dose == 'Third dose'", "value": 0.22}, "value": 0.3}}},
            {"mark": {"type": "line", "interpolate": "linear", "strokeWidth": 1.7},
             "encoding": {"y": {"field": "inc", "type": "quantitative", "title": "Cumulative incidence (%)"},
                          "color": {"field": "dose", "type": "nominal", "scale": {"domain": ["Fourth dose", "Third dose"], "range": ["#5f4ea3", "#f6a623"]}, "legend": null},
                          "strokeDash": {"field": "dose", "type": "nominal", "scale": {"domain": ["Fourth dose", "Third dose"], "range": [[1, 0], [4, 2.5]]}, "legend": null}}}
          ]
        }
      ]
    }
  ]
}
